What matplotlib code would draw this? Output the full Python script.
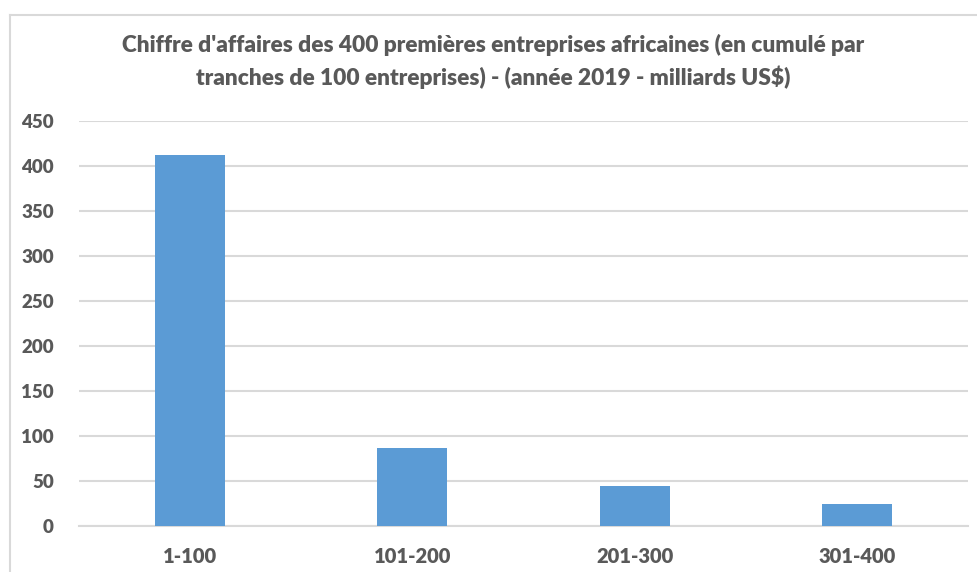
import matplotlib.pyplot as plt
from matplotlib.lines import Line2D

categories = ["1-100", "101-200", "201-300", "301-400"]
values = [412, 87, 45, 24]
yticks = [0, 50, 100, 150, 200, 250, 300, 350, 400, 450]

title = ("Chiffre d'affaires des 400 premières entreprises africaines (en cumulé par\n"
         "tranches de 100 entreprises) - (année 2019 - milliards US$)")

plt.rcParams["font.family"] = ["Lato", "DejaVu Sans"]

fig = plt.figure(figsize=(9.78, 5.72), dpi=100)
fig.patch.set_facecolor("white")
ax = fig.add_axes([79 / 978, 1 - 526 / 572, 889 / 978, (526 - 121) / 572])

x = range(len(categories))
ax.bar(x, values, width=0.315, color="#5b9bd5", zorder=3)

ax.set_xlim(-0.5, len(categories) - 0.5)
ax.set_ylim(0, 450)
ax.set_yticks(yticks)
ax.set_xticks(list(x))
ax.set_xticklabels(categories)
ax.grid(axis="y", color="#d9d9d9", linewidth=1.5, zorder=0)
for s in ["top", "right", "left"]:
    ax.spines[s].set_visible(False)
ax.spines["bottom"].set_color("#d9d9d9")
ax.spines["bottom"].set_linewidth(1.5)
ax.tick_params(axis="both", length=0, labelcolor="#595959")
ax.tick_params(axis="y", pad=18, labelsize=13.5)
ax.tick_params(axis="x", pad=15, labelsize=14.5)
for lab in ax.get_xticklabels() + ax.get_yticklabels():
    lab.set_fontweight("heavy")

fig.text(493 / 978, 1 - 61.5 / 572, title, ha="center", va="center",
         fontsize=16.3, fontweight="heavy", color="#595959", linespacing=1.5)

# chart border (cropped on the right and bottom)
fig.add_artist(Line2D([9.5 / 978, 9.5 / 978], [0, 1 - 15 / 572],
                      transform=fig.transFigure, color="#d9d9d9", lw=1.5))
fig.add_artist(Line2D([9.5 / 978, 1], [1 - 15 / 572, 1 - 15 / 572],
                      transform=fig.transFigure, color="#d9d9d9", lw=1.5))

fig.savefig("out.png", dpi=100)
